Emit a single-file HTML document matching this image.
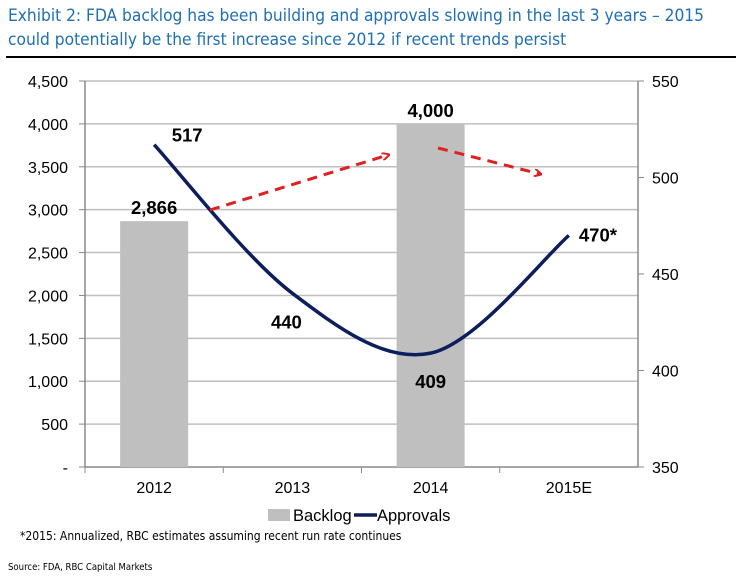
<!DOCTYPE html>
<html><head><meta charset="utf-8"><style>
body{margin:0;background:#fff;width:740px;height:582px;overflow:hidden;font-family:"Liberation Sans",sans-serif}
.t{position:absolute;left:8px;top:4px;color:#1f6fb5;font-size:17.2px;line-height:24px;font-family:"DejaVu Sans Condensed","Liberation Sans",sans-serif}
svg text{font-family:"Liberation Sans",sans-serif}
</style></head><body>
<div class="t">Exhibit 2: FDA backlog has been building and approvals slowing in the last 3 years – 2015<br>could potentially be the first increase since 2012 if recent trends persist</div>
<div style="position:absolute;left:6px;top:56px;width:730px;height:2px;background:#000"></div>
<svg id="c" width="740" height="582" style="position:absolute;left:0;top:0"></svg>
<div style="position:absolute;left:20px;top:529px;font-size:12px;font-family:'DejaVu Sans Condensed','Liberation Sans',sans-serif">*2015: Annualized, RBC estimates assuming recent run rate continues</div>
<div style="position:absolute;left:8px;top:562px;font-size:9.5px;font-family:'DejaVu Sans Condensed','Liberation Sans',sans-serif">Source: FDA, RBC Capital Markets</div>
<script>
const categories=["2012","2013","2014","2015E"];
const backlog=[2866,null,4000,null];
const backlogLabels=["2,866","","4,000",""];
const approvals=[517,440,409,470];
const approvalLabels=["517","440","409","470*"];
const leftTicks=[0,500,1000,1500,2000,2500,3000,3500,4000,4500];
const rightTicks=[350,400,450,500,550];
const svg=document.getElementById('c');const NS="http://www.w3.org/2000/svg";
function mk(t,a,p){const e=document.createElementNS(NS,t);for(const k in a)e.setAttribute(k,a[k]);(p||svg).appendChild(e);return e;}
const X0=85,X1=638,Y0=467,Y1=81;
const cw=(X1-X0)/categories.length;
const xc=i=>X0+cw*(i+0.5);
const yl=v=>Y0-(v/4500)*(Y0-Y1);
const yr=v=>Y0-((v-350)/200)*(Y0-Y1);
leftTicks.forEach(v=>{
 if(v>0){const g=mk('line',{x1:X0,x2:X1,y1:yl(v),y2:yl(v),stroke:'#bfbfbf','stroke-width':1.5});}
 const t=mk('text',{x:X0-17,y:yl(v)+6,'text-anchor':'end','font-size':16,fill:'#000'});t.textContent=v===0?'-':v.toLocaleString('en-US');
 
 mk('line',{x1:X0-6,x2:X0,y1:yl(v),y2:yl(v),stroke:'#888'});
});
rightTicks.forEach(v=>{
 const t=mk('text',{x:X1+14,y:yr(v)+6,'font-size':16,fill:'#000'});t.textContent=v;
 
 mk('line',{x1:X1,x2:X1+6,y1:yr(v),y2:yr(v),stroke:'#888'});
});
mk('line',{x1:X0,x2:X0,y1:Y1,y2:Y0,stroke:'#888','stroke-width':1.5});
mk('line',{x1:X1,x2:X1,y1:Y1,y2:Y0,stroke:'#888','stroke-width':1.5});
mk('line',{x1:X0,x2:X1,y1:Y0,y2:Y0,stroke:'#888','stroke-width':1.5});
categories.forEach((c,i)=>{
 mk('line',{x1:X0+cw*i,x2:X0+cw*i,y1:Y0,y2:Y0+6,stroke:'#888'});
 const t=mk('text',{x:xc(i),y:Y0+26,'text-anchor':'middle','font-size':16});t.textContent=c;
 
 if(backlog[i]!=null){
  const b=mk('rect',{x:xc(i)-34,y:yl(backlog[i]),width:68,height:Y0-yl(backlog[i]),fill:'#bfbfbf'});
  
  const l=mk('text',{x:xc(i),y:yl(backlog[i])-7,'text-anchor':'middle','font-size':18.5,'font-weight':'bold'});l.textContent=backlogLabels[i];
  
 }
});
const pts=approvals.map((v,i)=>[xc(i),yr(v)]);
let d=`M${pts[0][0]},${pts[0][1]}`;
for(let i=0;i<pts.length-1;i++){const p0=pts[Math.max(0,i-1)],p1=pts[i],p2=pts[i+1],p3=pts[Math.min(pts.length-1,i+2)];
 d+=` C${p1[0]+(p2[0]-p0[0])/6},${p1[1]+(p2[1]-p0[1])/6} ${p2[0]-(p3[0]-p1[0])/6},${p2[1]-(p3[1]-p1[1])/6} ${p2[0]},${p2[1]}`;}
const ln=mk('path',{d:d,fill:'none',stroke:'#0c1f5c','stroke-width':3.5});

const off=[[33,-3],[-6,35],[0,35],[30,6]];
approvals.forEach((v,i)=>{const t=mk('text',{x:pts[i][0]+off[i][0],y:pts[i][1]+off[i][1],'text-anchor':i==3?'start':'middle','font-size':18.5,'font-weight':'bold'});
 if(i==3)t.setAttribute('x',pts[i][0]+10);t.textContent=approvalLabels[i];
 });
mk('defs',{}).innerHTML='<marker id="ah" markerWidth="8" markerHeight="8" refX="6" refY="4" orient="auto" markerUnits="userSpaceOnUse" viewBox="0 0 8 8"><path d="M0,0 L8,4 L0,8" fill="none" stroke="#e02020" stroke-width="2"/></marker>';
[[210,210,388,155],[438,148,540,174]].forEach(a=>{const e=mk('line',{x1:a[0],y1:a[1],x2:a[2],y2:a[3],stroke:'#e02020','stroke-width':3,'stroke-dasharray':'10,7','marker-end':'url(#ah)'});
 });
const lg=mk('g',{});
mk('rect',{x:268,y:509,width:22,height:12,fill:'#bfbfbf'},lg);
mk('text',{x:293,y:521,'font-size':16.5},lg).textContent='Backlog';
mk('line',{x1:354,x2:377,y1:515,y2:515,stroke:'#0c1f5c','stroke-width':3.5},lg);
mk('text',{x:377,y:521,'font-size':16.5},lg).textContent='Approvals';
</script>
</body></html>
